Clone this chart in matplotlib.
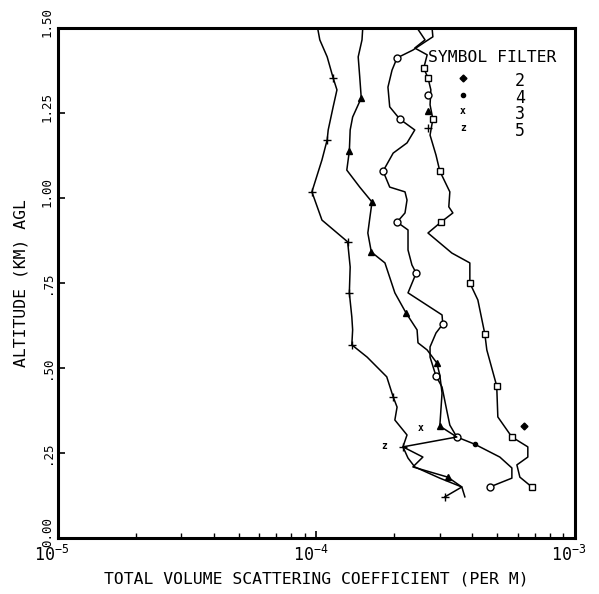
import matplotlib

matplotlib.use("Agg")
import matplotlib.pyplot as plt  # noqa: E402
from matplotlib.transforms import ScaledTranslation  # noqa: E402

# vertical profiles: scattering coefficient (per m) vs altitude (km AGL)
f2_coef = [2.45, 2.63, 2.40, 2.68, 2.60, 2.70, 2.77, 2.75, 2.82, 2.75, 2.90, 3.00,
           3.28, 3.25, 3.37, 3.03, 2.70, 3.34, 3.92, 3.92, 4.21, 4.48, 4.56, 4.98,
           5.03, 5.70, 6.57, 6.57, 5.96, 6.12, 6.81]
f2_alt = [1.50, 1.465, 1.441, 1.421, 1.382, 1.353, 1.318, 1.274, 1.232, 1.185, 1.126,
          1.079, 1.018, 0.974, 0.956, 0.929, 0.897, 0.838, 0.809, 0.750, 0.700, 0.600,
          0.553, 0.447, 0.356, 0.297, 0.268, 0.238, 0.215, 0.179, 0.150]
f2_marks = [4, 8, 11, 15, 19, 21, 23, 25, 30]

f4_coef = [2.80, 2.82, 2.63, 2.36, 2.05, 1.96, 1.89, 1.92, 2.10, 2.40, 2.24, 1.98,
           1.81, 1.92, 2.20, 2.24, 2.20, 2.05, 2.26, 2.26, 2.34, 2.43, 2.26, 3.06,
           3.08, 2.90, 2.75, 2.75, 2.90, 3.06, 3.19, 3.28, 3.49, 4.09, 5.12, 5.70,
           5.70, 4.68]
f4_alt = [1.50, 1.474, 1.459, 1.435, 1.412, 1.376, 1.326, 1.268, 1.232, 1.200, 1.162,
          1.132, 1.079, 1.032, 1.018, 0.994, 0.956, 0.929, 0.906, 0.847, 0.803, 0.779,
          0.721, 0.656, 0.629, 0.603, 0.562, 0.532, 0.476, 0.444, 0.376, 0.332, 0.297,
          0.276, 0.238, 0.206, 0.176, 0.150]
f4_marks = [4, 8, 12, 17, 21, 24, 28, 32, 37]

f3_coef = [1.51, 1.50, 1.45, 1.47, 1.49, 1.38, 1.35, 1.34, 1.31, 1.47, 1.64, 1.61,
           1.58, 1.63, 1.84, 2.01, 2.22, 2.45, 2.47, 2.68, 2.92, 3.00, 3.06, 3.00,
           3.49, 2.16, 2.58, 2.36, 3.22, 3.65, 3.75]
f3_alt = [1.50, 1.465, 1.415, 1.356, 1.294, 1.238, 1.200, 1.138, 1.082, 1.032, 0.988,
          0.944, 0.897, 0.841, 0.809, 0.721, 0.662, 0.612, 0.574, 0.553, 0.515, 0.479,
          0.426, 0.329, 0.297, 0.268, 0.238, 0.209, 0.179, 0.150, 0.121]
f3_marks = [4, 7, 10, 13, 16, 20, 23, 28]

f5_coef = [1.01, 1.03, 1.10, 1.16, 1.20, 1.16, 1.11, 1.10, 1.05, 0.96, 1.05, 1.32,
           1.35, 1.34, 1.37, 1.38, 1.37, 1.57, 1.87, 1.98, 2.05, 2.01, 2.24, 2.16,
           2.26, 2.40, 3.00, 3.65, 3.14]
f5_alt = [1.50, 1.465, 1.415, 1.353, 1.318, 1.268, 1.200, 1.171, 1.112, 1.018, 0.935,
          0.871, 0.797, 0.721, 0.650, 0.612, 0.568, 0.532, 0.474, 0.415, 0.385, 0.347,
          0.303, 0.268, 0.235, 0.209, 0.176, 0.150, 0.121]
f5_marks = [3, 7, 9, 11, 13, 16, 19, 23, 28]

# single-point measurements near 0.3 km (filters 2, 4, 3, 5)
pt_coef = [6.34, 4.09, 2.54, 1.82]
pt_alt = [0.329, 0.276, 0.324, 0.271]

filters = ["2", "4", "3", "5"]
x_ticks = [1e-5, 1e-4, 1e-3]
x_ticklabels = ["$10^{-5}$", "$10^{-4}$", "$10^{-3}$"]
y_ticks = [0.0, 0.25, 0.5, 0.75, 1.0, 1.25, 1.5]
y_ticklabels = ["0.00", ".25", ".50", ".75", "1.00", "1.25", "1.50"]

MONO = "DejaVu Sans Mono"
plt.rcParams["font.family"] = MONO
plt.rcParams["mathtext.fontset"] = "custom"
plt.rcParams["mathtext.rm"] = MONO
plt.rcParams["mathtext.it"] = MONO
plt.rcParams["mathtext.bf"] = MONO

fig = plt.figure(figsize=(5.99, 5.94), dpi=100)
ax = fig.add_axes([0.0968, 0.0943, 0.8631, 0.8586])

line_kw = dict(color="black", lw=1.1)
ax.plot([c * 1e-4 for c in f2_coef], f2_alt, marker="s", ms=4.5, mfc="white",
        mec="black", mew=1.0, markevery=f2_marks, **line_kw)
ax.plot([c * 1e-4 for c in f4_coef], f4_alt, marker="o", ms=5, mfc="white",
        mec="black", mew=1.0, markevery=f4_marks, **line_kw)
ax.plot([c * 1e-4 for c in f3_coef], f3_alt, marker="^", ms=4.5, mfc="black",
        mec="black", markevery=f3_marks, **line_kw)
ax.plot([c * 1e-4 for c in f5_coef], f5_alt, marker="+", ms=5.5, mew=1.0,
        markevery=f5_marks, **line_kw)

ax.plot(pt_coef[0] * 1e-4, pt_alt[0], "D", ms=3.5, color="black")
ax.plot(pt_coef[1] * 1e-4, pt_alt[1], "o", ms=3, color="black")
ax.text(pt_coef[2] * 1e-4, pt_alt[2], "x", fontsize=7, fontweight="bold",
        ha="center", va="center")
ax.text(pt_coef[3] * 1e-4, pt_alt[3], "z", fontsize=7, fontweight="bold",
        ha="center", va="center")

ax.set_xscale("log")
ax.set_xlim(1e-5, 1e-3)
ax.set_ylim(0, 1.5)

ax.set_xticks(x_ticks)
ax.set_xticklabels(x_ticklabels, fontsize=12)
ax.set_yticks(y_ticks)
ax.set_yticklabels(y_ticklabels, fontsize=9, rotation=90, va="center")
ax.tick_params(axis="both", which="major", direction="in", length=5, width=1.2)
ax.tick_params(axis="x", which="minor", direction="in", length=3.5, width=1.0)
ax.tick_params(axis="x", pad=5)
ax.tick_params(axis="y", pad=3)

shift_x = ScaledTranslation(-6 / 100, 0, fig.dpi_scale_trans)
for lab in ax.get_xticklabels():
    lab.set_transform(lab.get_transform() + shift_x)
shift_y = ScaledTranslation(0, 6 / 100, fig.dpi_scale_trans)
for lab, txt in zip(ax.get_yticklabels(), y_ticklabels):
    if len(txt) == 4:
        lab.set_transform(lab.get_transform() + shift_y)

for sp in ax.spines.values():
    sp.set_linewidth(2.2)

ax.set_xlabel("TOTAL VOLUME SCATTERING COEFFICIENT (PER M)", fontsize=11.8,
              labelpad=5)
ax.set_ylabel("ALTITUDE (KM) AGL", fontsize=11.8, labelpad=9)

# legend drawn as a plotter-style table
tr = ax.transAxes
ax.text(0.716, 0.943, "SYMBOL FILTER", transform=tr, fontsize=11.8,
        ha="left", va="center")
row_y = [0.902, 0.869, 0.837, 0.804]
ax.plot(0.716, row_y[0], "s", ms=4.5, mfc="white", mec="black", mew=1.0, transform=tr)
ax.plot(0.716, row_y[1], "o", ms=5, mfc="white", mec="black", mew=1.0, transform=tr)
ax.plot(0.716, row_y[2], "^", ms=4.5, color="black", transform=tr)
ax.plot(0.716, row_y[3], "+", ms=5.5, mew=1.0, color="black", transform=tr)
ax.plot(0.783, row_y[0], "D", ms=3.5, color="black", transform=tr)
ax.plot(0.783, row_y[1], "o", ms=3, color="black", transform=tr)
ax.text(0.783, row_y[2], "x", transform=tr, fontsize=7, fontweight="bold",
        ha="center", va="center")
ax.text(0.783, row_y[3], "z", transform=tr, fontsize=7, fontweight="bold",
        ha="center", va="center")
for y, name in zip(row_y, filters):
    ax.text(0.893, y - 0.006, name, transform=tr, fontsize=12, ha="center",
            va="center")

fig.savefig("out.png", dpi=100)
plt.close(fig)
